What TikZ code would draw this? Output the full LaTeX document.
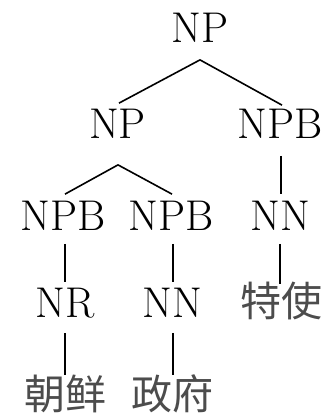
\documentclass[tikz,border=0pt]{standalone}
\usepackage{fontspec}
\newfontfamily\cjk{Noto Sans CJK SC}
\usetikzlibrary{calc}
\begin{document}
\begin{tikzpicture}[x=1pt,y=-1pt,
  lab/.style={inner sep=0pt,font=\fontsize{43}{50}\selectfont},
  cjklab/.style={inner sep=0pt,font=\fontsize{41}{48}\selectfont\cjk,text=black!70},
  br/.style={line width=1.6pt,black}]
\useasboundingbox (0,0) rectangle (326,415);
\node[lab] (np1) at (200,28) {NP};
\node[lab] (np2) at (117.5,124) {NP};
\node[lab] (npb3) at (280,124) {NPB};
\node[lab] (npb1) at (63,216) {NPB};
\node[lab] (npb2) at (171,216) {NPB};
\node[lab] (nn3) at (280,216) {NN};
\node[lab] (nr) at (65,303) {NR};
\node[lab] (nn2) at (172,303) {NN};
\node[cjklab] (w3) at (281,301) {特使};
\node[cjklab] (w1) at (65,394) {朝鲜};
\node[cjklab] (w2) at (172,394) {政府};
\draw[br] ($(np1.south)+(0,17)$) -- ($(np2.north)+(1.5,-6)$);
\draw[br] ($(np1.south)+(0,17)$) -- ($(npb3.north)+(2,-4)$);
\draw[br] ($(np2.south)+(0.5,26)$) -- ($(npb1.north)+(2,-7)$);
\draw[br] ($(np2.south)+(0.5,26)$) -- ($(npb2.north)+(1,-7)$);
\draw[br] ($(npb3.south)+(1,17)$) -- ($(nn3.north)+(1,-7)$);
\draw[br] ($(npb1.south)+(2,13)$) -- ($(nr.north)+(0,-6)$);
\draw[br] ($(npb2.south)+(2,13)$) -- ($(nn2.north)+(1,-6)$);
\draw[br] ($(nn3.south)+(0,13)$) -- ($(w3.north)+(-1,2)$);
\draw[br] ($(nr.south)+(0,15)$) -- ($(w1.north)+(0,0)$);
\draw[br] ($(nn2.south)+(1,15)$) -- ($(w2.north)+(1,0)$);
\end{tikzpicture}
\end{document}
